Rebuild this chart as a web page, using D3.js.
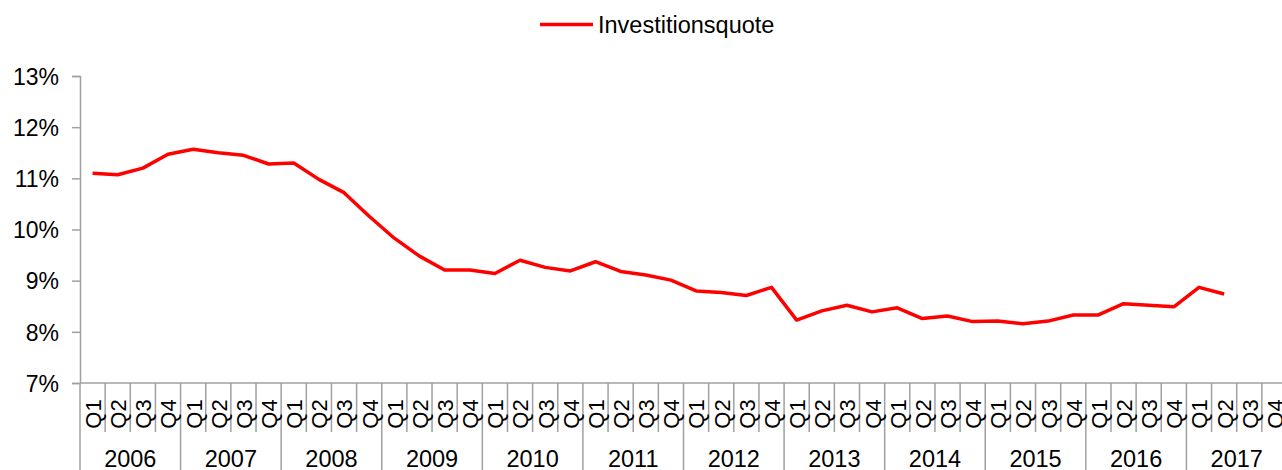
<!DOCTYPE html>
<html>
<head>
<meta charset="utf-8">
<script src="https://cdn.jsdelivr.net/npm/d3@7"></script>
<style>
  html, body { margin: 0; padding: 0; background: #fff; overflow: hidden; }
  svg { display: block; font-family: "Liberation Sans", Arial, sans-serif; }
</style>
</head>
<body>
<svg id="chart" width="1282" height="470"></svg>
<script>
// ! DATA
const years = ["2006","2007","2008","2009","2010","2011","2012","2013","2014","2015","2016","2017"];
const quarters = ["Q1","Q2","Q3","Q4"];
const seriesName = "Investitionsquote";
const yTicks = [7, 8, 9, 10, 11, 12, 13];
// quote in %, one per quarter, 2006 Q1 .. 2017 Q2
const quote = [
  11.10, 11.07, 11.20, 11.47,
  11.57, 11.50, 11.45, 11.28,
  11.30, 10.98, 10.72, 10.26,
  9.83, 9.48, 9.21, 9.21,
  9.14, 9.40, 9.26, 9.19,
  9.37, 9.18, 9.11, 9.01,
  8.80, 8.77, 8.71, 8.87,
  8.23, 8.41, 8.52, 8.39,
  8.47, 8.26, 8.31, 8.20,
  8.21, 8.16, 8.21, 8.33,
  8.33, 8.55, 8.52, 8.49,
  8.87, 8.74
];

const svg = d3.select("#chart");
const plot = { left: 80, right: 1287, top: 76, bottom: 383 };
const axisColor = "#a0a0a0";

// category keys like "2006-Q1"
const keys = [];
years.forEach(yr => quarters.forEach(q => keys.push(yr + "-" + q)));

const x = d3.scaleBand().domain(keys).range([plot.left, plot.right]).paddingInner(0).paddingOuter(0);
const y = d3.scaleLinear().domain([7, 13]).range([plot.bottom, plot.top]);
const bw = x.bandwidth();

// ! Y AXIS
const yAxis = svg.append("g")
  .attr("transform", `translate(${plot.left},0)`)
  .call(d3.axisLeft(y).tickValues(yTicks).tickSize(8).tickPadding(13).tickFormat(d => d + "%"));
yAxis.select(".domain").attr("stroke", axisColor).attr("stroke-width", 1.5);
yAxis.selectAll(".tick line").attr("stroke", axisColor).attr("stroke-width", 1.5);
yAxis.selectAll(".tick text").attr("fill", "#000").style("font-size", "23px").attr("dy", "0.36em");

// ! X AXIS (two-level categories)
const xg = svg.append("g");
xg.append("line")
  .attr("x1", plot.left).attr("x2", plot.right).attr("y1", plot.bottom).attr("y2", plot.bottom)
  .attr("stroke", axisColor).attr("stroke-width", 1.5);

// y axis continues down through the category area
xg.append("line")
  .attr("x1", plot.left).attr("x2", plot.left).attr("y1", plot.bottom).attr("y2", 470)
  .attr("stroke", axisColor).attr("stroke-width", 1.5);

// quarter separators
xg.selectAll("line.qsep")
  .data(keys.filter(k => !k.endsWith("Q1")))
  .join("line")
  .attr("class", "qsep")
  .attr("x1", d => x(d)).attr("x2", d => x(d))
  .attr("y1", plot.bottom).attr("y2", 432)
  .attr("stroke", axisColor).attr("stroke-width", 1.5);

// year separators
xg.selectAll("line.ysep")
  .data(years.slice(1))
  .join("line")
  .attr("class", "ysep")
  .attr("x1", d => x(d + "-Q1"))
  .attr("x2", d => x(d + "-Q1"))
  .attr("y1", plot.bottom).attr("y2", 470)
  .attr("stroke", axisColor).attr("stroke-width", 1.5);

// quarter labels, rotated
xg.selectAll("text.ql")
  .data(keys)
  .join("text")
  .attr("class", "ql")
  .attr("transform", d => `translate(${x(d) + bw / 2 + 0.5},414) rotate(-90)`)
  .attr("text-anchor", "middle")
  .attr("dy", "0.36em")
  .style("font-size", "22px")
  .text(d => d.split("-")[1]);

// year labels
xg.selectAll("text.yl")
  .data(years)
  .join("text")
  .attr("class", "yl")
  .attr("x", d => x(d + "-Q1") + bw * 2)
  .attr("y", 467)
  .attr("text-anchor", "middle")
  .style("font-size", "23.5px")
  .text(d => d);

// ! LINE
const line = d3.line()
  .x((d, i) => x(keys[i]) + bw / 2)
  .y(d => y(d));

svg.append("path")
  .datum(quote)
  .attr("d", line)
  .attr("fill", "none")
  .attr("stroke", "#ff0000")
  .attr("stroke-width", 3.5)
  .attr("stroke-linejoin", "round");

// ! LEGEND
const lg = svg.append("g");
lg.append("line")
  .attr("x1", 540).attr("x2", 593).attr("y1", 24.5).attr("y2", 24.5)
  .attr("stroke", "#ff0000").attr("stroke-width", 3.5);
lg.append("text")
  .attr("x", 598).attr("y", 33)
  .style("font-size", "23.5px")
  .text(seriesName);
</script>
</body>
</html>
